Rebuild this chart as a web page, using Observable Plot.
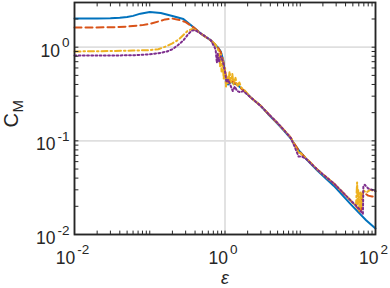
<!DOCTYPE html>
<html><head><meta charset="utf-8">
<script src="https://cdn.jsdelivr.net/npm/d3@7"></script>
<script src="https://cdn.jsdelivr.net/npm/@observablehq/plot@0.6"></script>
<style>body{margin:0;background:#fff;} svg{display:block}</style>
</head><body><div id="chart"></div>
<script>
// ---- data ----
const blueX = [0.01,0.02,0.03,0.04,0.05,0.06,0.075,0.1,0.14,0.2,0.28,0.385,0.5,0.65,0.8,0.88,0.95,1.0,1.04,1.1,1.2,1.3,1.45,1.6,1.8,2.2,3,3.7,5,6.1,7.5,8.5,10,12,17,28,47,64,75,100];
const blueY = [2.02,2.03,2.04,2.06,2.1,2.16,2.28,2.37,2.32,2.15,2.0,1.62,1.36,1.18,1.0,0.9,0.72,0.52,0.43,0.4,0.43,0.41,0.4,0.37,0.34,0.29,0.235,0.195,0.152,0.128,0.106,0.09,0.076,0.064,0.048,0.033,0.021,0.0162,0.0142,0.0116];

const redX = [0.01,0.03,0.05,0.08,0.1,0.13,0.16,0.2,0.25,0.3,0.35,0.385,0.5,0.65,0.8,0.88,0.95,1.0,1.05,1.1,1.2,1.3,1.45,1.6,1.8,2.2,3,3.7,5,6.1,7.5,8.5,10,12,17,28,47,60,64,66,70,80,90,100];
const redY = [1.62,1.63,1.66,1.72,1.77,1.88,1.98,2.02,1.95,1.85,1.7,1.62,1.36,1.18,1.0,0.88,0.7,0.56,0.46,0.42,0.46,0.42,0.4,0.37,0.34,0.29,0.236,0.197,0.154,0.13,0.108,0.091,0.075,0.065,0.049,0.035,0.023,0.0185,0.017,0.027,0.028,0.026,0.0255,0.025];

const yelX = [0.01,0.03,0.06,0.1,0.13,0.17,0.2,0.24,0.28,0.32,0.37,0.42,0.5,0.65,0.75,0.8,0.83,0.86,0.88,0.9,0.93,0.96,1.0,1.03,1.06,1.1,1.15,1.2,1.25,1.3,1.38,1.45,1.55,1.65,1.8,2.2,3,3.7,5,6.1,7.5,8.5,9.5,10,12,17,28,47,55,57,58,59,61,63,65,68,75,85,100];
const yelY = [0.9,0.91,0.92,0.93,0.95,1.03,1.1,1.2,1.35,1.5,1.57,1.5,1.36,1.18,1.06,0.95,0.9,0.62,0.85,0.55,0.75,0.46,0.62,0.38,0.5,0.4,0.55,0.42,0.52,0.4,0.47,0.38,0.42,0.37,0.35,0.29,0.236,0.197,0.154,0.13,0.108,0.088,0.075,0.074,0.065,0.049,0.035,0.023,0.02,0.036,0.021,0.03,0.018,0.028,0.02,0.03,0.028,0.03,0.029];

const purX = [0.01,0.03,0.06,0.1,0.14,0.17,0.2,0.24,0.28,0.32,0.36,0.4,0.5,0.65,0.75,0.78,0.8,0.83,0.88,0.93,1.0,1.05,1.1,1.2,1.27,1.35,1.45,1.6,1.75,2.2,3,3.7,5,6.1,7.5,8.5,9.5,10.5,12,17,28,47,60,66,68,69,72,80,90,100];
const purY = [0.815,0.815,0.82,0.84,0.87,0.9,0.95,1.06,1.18,1.36,1.5,1.52,1.37,1.18,0.95,0.68,0.85,0.7,0.8,0.72,0.55,0.42,0.45,0.38,0.34,0.38,0.34,0.33,0.34,0.29,0.235,0.197,0.155,0.13,0.107,0.085,0.068,0.068,0.064,0.049,0.035,0.023,0.019,0.017,0.0165,0.033,0.034,0.031,0.03,0.029];

const xLabelVals = [0.01, 1, 100];
const xLabelText = ["10^-2", "10^0", "10^2"];
const yLabelVals = [0.01, 0.1, 1];
const yLabelText = ["10^-2", "10^-1", "10^0"];
const xGrid = [0.01, 1, 100];
const yGrid = [0.01, 0.1, 1];

// tick positions (axis structure)
const xTicks = [];
for (let k = -2; k <= 1; k++) for (let m = 1; m <= 9; m++) { const v = m * Math.pow(10, k); if (v > 0.0101) xTicks.push(v); }
const yTicks = [];
for (let k = -2; k <= 0; k++) for (let m = 1; m <= 9; m++) { const v = m * Math.pow(10, k); if (v > 0.0101 && v < 2.9) yTicks.push(v); }

const toRows = (X, Y) => X.map((x, i) => ({x, y: Y[i]}));
const blue = toRows(blueX, blueY), red = toRows(redX, redY), yel = toRows(yelX, yelY), pur = toRows(purX, purY);

const tickShape = {draw(ctx, l) { ctx.moveTo(0, 0); ctx.lineTo(0, -l); }};
const tickOpts = {length: 3.5, anchor: "start", shape: tickShape, stroke: "#262626", strokeWidth: 1};
const font = "'Liberation Sans', Arial, Helvetica, sans-serif";

const chart = Plot.plot({
  width: 390, height: 288,
  marginLeft: 74, marginRight: 15, marginTop: 2, marginBottom: 54,
  x: {type: "log", domain: [0.01, 100], axis: null},
  y: {type: "log", domain: [0.01, 3], axis: null},
  style: {fontFamily: font, background: "white", overflow: "visible"},
  marks: [
    Plot.ruleX(xGrid, {x: d => d, stroke: "#dfdfdf", strokeWidth: 1.8}),
    Plot.ruleY(yGrid, {y: d => d, stroke: "#dfdfdf", strokeWidth: 1.8}),
    Plot.line(blue, {x: "x", y: "y", stroke: "#0072BD", strokeWidth: 2}),
    Plot.line(red, {x: "x", y: "y", stroke: "#D95319", strokeWidth: 2, strokeDasharray: "7,4"}),
    Plot.line(yel, {x: "x", y: "y", stroke: "#EDB120", strokeWidth: 2, strokeDasharray: "6,3,1.5,3"}),
    Plot.line(pur, {x: "x", y: "y", stroke: "#7E2F8E", strokeWidth: 2, strokeDasharray: "1.8,2.4"}),
    Plot.frame({stroke: "#262626", strokeWidth: 1.8}),
    Plot.vector(xTicks, {x: d => d, frameAnchor: "bottom", rotate: 0, ...tickOpts}),
    Plot.vector(xTicks, {x: d => d, frameAnchor: "top", rotate: 180, ...tickOpts}),
    Plot.vector(yTicks, {y: d => d, frameAnchor: "left", rotate: 90, ...tickOpts}),
    Plot.vector(yTicks, {y: d => d, frameAnchor: "right", rotate: -90, ...tickOpts}),
    Plot.text(xLabelVals, {x: d => d, text: (d, i) => xLabelText[i], frameAnchor: "bottom", lineAnchor: "top", dy: 16.7, dx: -2, fontSize: 17.5, fill: "#262626"}),
    Plot.text(yLabelVals, {y: d => d, text: (d, i) => yLabelText[i], frameAnchor: "left", textAnchor: "end", dx: -5, dy: 4, fontSize: 17.5, fill: "#262626"}),
    Plot.text(["C_M"], {text: d => d, frameAnchor: "left", rotate: -90, lineAnchor: "bottom", dx: -57, dy: 9, fontSize: 20, fill: "#262626"}),
    Plot.text(["ε"], {text: d => d, frameAnchor: "bottom", lineAnchor: "bottom", dy: 49, fontSize: 18, fontStyle: "italic", fill: "#262626"})
  ]
});

// superscript / subscript rendering as real tspans
d3.select(chart).selectAll("text").each(function() {
  const t = this.textContent;
  let m = t.match(/^(.*)\^(.*)$/);
  if (m) {
    this.textContent = m[1];
    d3.select(this).append("tspan").attr("dx", 2).attr("dy", -9.5).attr("font-size", 13.5).text(m[2]);
    return;
  }
  m = t.match(/^(.*)_(.*)$/);
  if (m) {
    this.textContent = m[1];
    d3.select(this).append("tspan").attr("dx", 0.5).attr("dy", 5).attr("font-size", 15).text(m[2]);
  }
});

document.getElementById("chart").appendChild(chart);
</script>
</body></html>
